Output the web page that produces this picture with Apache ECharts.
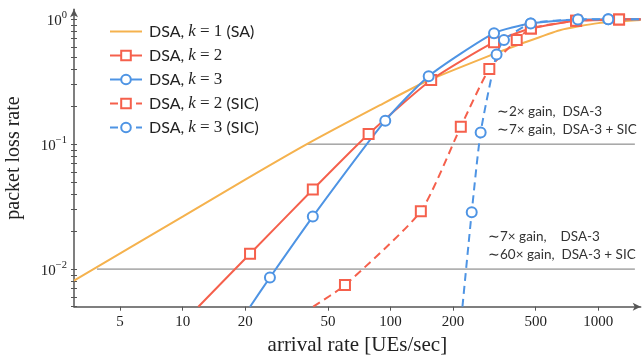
<!DOCTYPE html>
<html>
<head>
<meta charset="utf-8">
<script src="https://cdn.jsdelivr.net/npm/echarts@6/dist/echarts.min.js"></script>
<style>
  html, body { margin: 0; padding: 0; background: #fff; }
  #chart { width: 642px; height: 360px; }
</style>
</head>
<body>
<div id="chart"></div>
<script>
// values (log-log)
const saX = [3, 10, 20, 39.6, 89, 150, 290, 420, 653, 1000, 1600];
const saY = [0.0081, 0.0263, 0.052, 0.1, 0.205, 0.32, 0.5, 0.63, 0.817, 0.93, 0.985];

const k2X = [11.9, 21.1, 42.3, 78.5, 157, 315, 474, 782, 1259, 1600];
const k2Y = [0.005, 0.01325, 0.0433, 0.1205, 0.326, 0.655, 0.843, 0.97, 0.995, 1.0];

const k3X = [21.1, 26.3, 42.3, 94.4, 152.7, 315, 473, 798, 1117, 1600];
const k3Y = [0.005, 0.00857, 0.0263, 0.154, 0.35, 0.773, 0.924, 0.994, 1.0, 1.0];

const k2sicX = [42.5, 60.4, 140, 218, 299, 405, 474, 782, 1259, 1600];
const k2sicY = [0.005, 0.00745, 0.0291, 0.138, 0.4, 0.68, 0.843, 0.97, 0.995, 1.0];

const k3sicX = [222, 246, 271.6, 324, 351.6, 473, 798, 1117, 1600];
const k3sicY = [0.005, 0.0285, 0.124, 0.522, 0.68, 0.924, 0.994, 1.0, 1.0];

const gainY = [0.1, 0.01];
const gainStartX = [39.6, 3.87];
const gainEndX = 1500;

const xTicks = [5, 10, 20, 50, 100, 200, 500, 1000];
const yMajor = [0.01, 0.1, 1];

const xMin = 3, xMax = 1600, yMin = 0.005, yMax = 1.2;

const names = ['DSA, k = 1 (SA)', 'DSA, k = 2', 'DSA, k = 3', 'DSA, k = 2 (SIC)', 'DSA, k = 3 (SIC)'];
const orange = '#f5b24e', red = '#f5604c', blue = '#4e94e4';

// minor ticks on y (2..9 per decade)
let yTicks = [];
for (let d = -3; d <= 0; d++) {
    for (let m = 1; m <= 9; m++) {
        let v = m * Math.pow(10, d);
        if (v >= yMin * 0.999 && v <= yMax) yTicks.push(+v.toPrecision(3));
    }
}

function pts(xs, ys) {
    // end points sit on the plot border: no marker there
    return xs.map((x, i) => {
        let item = { value: [x, ys[i]] };
        if (ys[i] <= yMin || x >= xMax) item.symbol = 'none';
        return item;
    });
}

function mkSeries(name, xs, ys, color, symbol, dashed) {
    return {
        name: name,
        type: 'line',
        data: pts(xs, ys),
        smooth: 0.2,
        symbol: symbol,
        symbolSize: 10,
        showSymbol: true,
        clip: true,
        lineStyle: { color: color, width: 2, type: dashed ? [8, 5] : 'solid' },
        itemStyle: { color: color, borderColor: color, borderWidth: 2 },
        emphasis: { disabled: true },
        z: 3
    };
}

var dom = document.getElementById('chart');
var myChart = echarts.init(dom, null, { renderer: 'canvas' });

var gainSeries = gainY.map((y, i) => ({
    type: 'line',
    data: [[gainStartX[i], y], [gainEndX, y]],
    symbol: 'none',
    silent: true,
    lineStyle: { color: '#777', width: 1 },
    z: 1
}));

var legendData = names.map((n, i) => i === 0 ? { name: n, itemStyle: { opacity: 0 } } : n);

var option = {
    animation: false,
    backgroundColor: '#fff',
    grid: { left: 74, right: 1.3, top: 9.3, bottom: 53.3, containLabel: false, outerBoundsMode: 'none' },
    legend: {
        data: legendData,
        orient: 'vertical',
        left: 104,
        top: 18,
        itemWidth: 32,
        itemHeight: 12,
        itemGap: 7,
        textStyle: {
            fontFamily: 'Lato', fontSize: 16, color: '#222', lineHeight: 16,
            padding: [0, 0, 0, 2],
            rich: {
                t: { fontFamily: 'Lato', fontSize: 16, color: '#222', lineHeight: 16 },
                k: { fontFamily: 'Liberation Serif', fontStyle: 'italic', fontSize: 17, color: '#222', lineHeight: 16 },
                m: { fontFamily: 'Liberation Serif', fontSize: 17, color: '#222', lineHeight: 16 }
            }
        },
        formatter: function (name) {
            let m = name.match(/^DSA, k = (\d)(.*)$/);
            return '{t|DSA, }{k|k}{m| = ' + m[1] + '}{t|' + m[2] + '}';
        }
    },
    xAxis: {
        type: 'log',
        min: xMin,
        max: xMax,
        name: 'arrival rate [UEs/sec]',
        nameLocation: 'middle',
        nameGap: 23,
        nameTextStyle: { fontFamily: 'Liberation Serif', fontSize: 21, color: '#222' },
        axisLine: { show: true, lineStyle: { color: '#555', width: 1.5 }, symbol: ['none', 'arrow'], symbolSize: [6, 8] },
        axisTick: { show: true, inside: false, length: 4, customValues: xTicks, lineStyle: { color: '#555' } },
        axisLabel: {
            customValues: xTicks, margin: 8,
            fontFamily: 'Liberation Serif', fontSize: 15, color: '#222',
            formatter: v => String(Math.round(v))
        },
        splitLine: { show: false },
        minorTick: { show: false }
    },
    yAxis: [{
        type: 'log',
        min: yMin,
        max: yMax,
        name: 'packet loss rate',
        nameLocation: 'middle',
        nameGap: 50,
        nameTextStyle: { fontFamily: 'Liberation Serif', fontSize: 20, color: '#222' },
        axisLine: { show: true, lineStyle: { color: '#555', width: 1.5 }, symbol: ['none', 'arrow'], symbolSize: [6, 8] },
        axisTick: { show: true, inside: false, length: 3, customValues: yTicks, lineStyle: { color: '#555' } },
        axisLabel: {
            customValues: yMajor, margin: 7,
            fontFamily: 'Liberation Serif', fontSize: 15, color: '#222',
            formatter: function (v) {
                let e = Math.round(Math.log10(v));
                return '{b|10}{s|' + (e < 0 ? '\u2212' + (-e) : e) + '}';
            },
            rich: {
                b: { fontFamily: 'Liberation Serif', fontSize: 15, color: '#222', padding: [4, 0, 0, 0] },
                s: { fontFamily: 'Liberation Serif', fontSize: 10.5, color: '#222', padding: [0, 0, 8, 0] }
            }
        },
        splitLine: { show: false }
    }, {
        type: 'log',
        min: yMin,
        max: yMax,
        position: 'left',
        offset: 0,
        axisLine: { show: false },
        axisTick: { show: true, inside: true, length: 3, customValues: yTicks, lineStyle: { color: '#555' } },
        axisLabel: { show: false },
        splitLine: { show: false }
    }],
    graphic: [
        { type: 'text', left: 497, top: 105, style: { text: '\u223c2\u00d7 gain,  DSA-3', font: '13.5px Lato', fill: '#333' } },
        { type: 'text', left: 497, top: 123, style: { text: '\u223c7\u00d7 gain,  DSA-3 + SIC', font: '13.5px Lato', fill: '#333' } },
        { type: 'text', left: 488, top: 230, style: { text: '\u223c7\u00d7 gain,    DSA-3', font: '13.5px Lato', fill: '#333' } },
        { type: 'text', left: 488, top: 248, style: { text: '\u223c60\u00d7 gain,  DSA-3 + SIC', font: '13.5px Lato', fill: '#333' } }
    ],
    series: gainSeries.concat([
        Object.assign(mkSeries(names[0], saX, saY, orange, 'none', false), { z: 2 }),
        mkSeries(names[1], k2X, k2Y, red, 'emptyRect', false),
        mkSeries(names[2], k3X, k3Y, blue, 'emptyCircle', false),
        mkSeries(names[3], k2sicX, k2sicY, red, 'emptyRect', true),
        mkSeries(names[4], k3sicX, k3sicY, blue, 'emptyCircle', true)
    ])
};

myChart.setOption(option);
window.addEventListener('resize', myChart.resize);
</script>
</body>
</html>
